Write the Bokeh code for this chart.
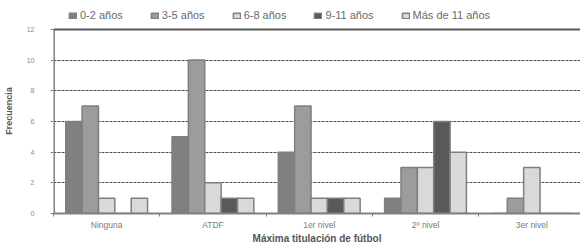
from bokeh.plotting import figure
from bokeh.models import (ColumnDataSource, Legend, LegendItem, FixedTicker, Span, Range1d)
from bokeh.embed import file_html
from bokeh.resources import INLINE

categories = ["Ninguna", "ATDF", "1er nivel", "2º nivel", "3er nivel"]
series_names = ["0-2 años", "3-5 años", "6-8 años", "9-11 años", "Más de 11 años"]
s_0_2 = [6, 5, 4, 1, 0]
s_3_5 = [7, 10, 7, 3, 1]
s_6_8 = [1, 2, 1, 3, 3]
s_9_11 = [0, 1, 1, 6, 0]
s_mas_11 = [1, 1, 1, 4, 0]
series_values = [s_0_2, s_3_5, s_6_8, s_9_11, s_mas_11]
colors = ["#808080", "#9c9c9c", "#d9d9d9", "#595959", "#d9d9d9"]
y_ticks = [0, 2, 4, 6, 8, 10, 12]
y_max = 12
x_title = "Máxima titulación de fútbol"
y_title = "Frecuencia"

FONT = "Liberation Sans"

# frame spans page y 8..214; value 12 must sit at y 29
frame_top, frame_bottom, top_line = 8, 214, 29
y_top = y_max * (frame_bottom - frame_top) / (frame_bottom - top_line)

p = figure(width=580, height=246, output_backend="svg", toolbar_location=None,
           x_range=Range1d(0, 4.958), y_range=Range1d(0, y_top),
           min_border_left=52, min_border_right=0, min_border_top=frame_top,
           min_border_bottom=246 - frame_bottom)
p.outline_line_color = None
p.background_fill_color = "white"
p.border_fill_color = "white"

bar_w = 0.154
items = []
for i, (name, vals, col) in enumerate(zip(series_names, series_values, colors)):
    xs = [j + 0.5 + (i - 2) * bar_w for j in range(len(categories))]
    src = ColumnDataSource(dict(x=xs, top=vals))
    r = p.vbar(x="x", top="top", bottom=0, width=bar_w, source=src,
               fill_color=col, line_color="#7f7f7f", line_width=1.5)
    items.append(LegendItem(label=name, renderers=[r]))

legend = Legend(items=items, orientation="horizontal", location=(15, 192),
                padding=0, margin=0, spacing=27, label_standoff=3,
                glyph_width=9, glyph_height=7, label_height=10,
                label_text_font=FONT, label_text_font_size="11px",
                label_text_color="#6a6a6a", border_line_color=None,
                background_fill_alpha=0)
p.add_layout(legend, "center")

# frame borders: top line at 12 and left line from 0 to 12
p.add_layout(Span(location=y_max, dimension="width", line_color="#595959", line_width=2))
p.segment(x0=[0], y0=[0], x1=[0], y1=[y_max], line_color="#808080", line_width=3)

# grid
p.xgrid.visible = False
p.ygrid.ticker = FixedTicker(ticks=y_ticks[1:-1])
p.ygrid.grid_line_color = "#4d4d4d"
p.ygrid.grid_line_dash = "3 1"
p.ygrid.grid_line_width = 1

# y axis
ya = p.yaxis[0]
ya.ticker = FixedTicker(ticks=y_ticks)
ya.axis_line_color = None
ya.major_tick_in = 0
ya.major_tick_out = 3
ya.major_tick_line_color = "#808080"
ya.minor_tick_line_color = None
ya.major_label_text_font = FONT
ya.major_label_text_font_size = "7px"
ya.major_label_text_color = "#8a8a8a"
ya.major_label_standoff = 16
ya.axis_label = y_title
ya.axis_label_text_font = FONT
ya.axis_label_text_font_size = "9px"
ya.axis_label_text_font_style = "bold"
ya.axis_label_text_color = "#555555"
ya.axis_label_standoff = 10

# x axis
xa = p.xaxis[0]
centers = [j + 0.5 for j in range(len(categories))]
xa.ticker = FixedTicker(ticks=centers, minor_ticks=list(range(len(categories) + 1)))
xa.major_label_overrides = {c: lab for c, lab in zip(centers, categories)}
xa.axis_line_color = "#808080"
xa.axis_line_width = 2
xa.major_tick_in = 0
xa.major_tick_out = 0
xa.minor_tick_in = 0
xa.minor_tick_out = 3
xa.minor_tick_line_color = "#808080"
xa.major_label_text_font = FONT
xa.major_label_text_font_size = "8.5px"
xa.major_label_text_color = "#7a7a7a"
xa.major_label_standoff = 3
xa.axis_label = x_title
xa.axis_label_text_font = FONT
xa.axis_label_text_font_size = "10px"
xa.axis_label_text_font_style = "bold"
xa.axis_label_text_color = "#555555"
xa.axis_label_standoff = 0

open("out.html", "w").write(file_html(p, INLINE))
